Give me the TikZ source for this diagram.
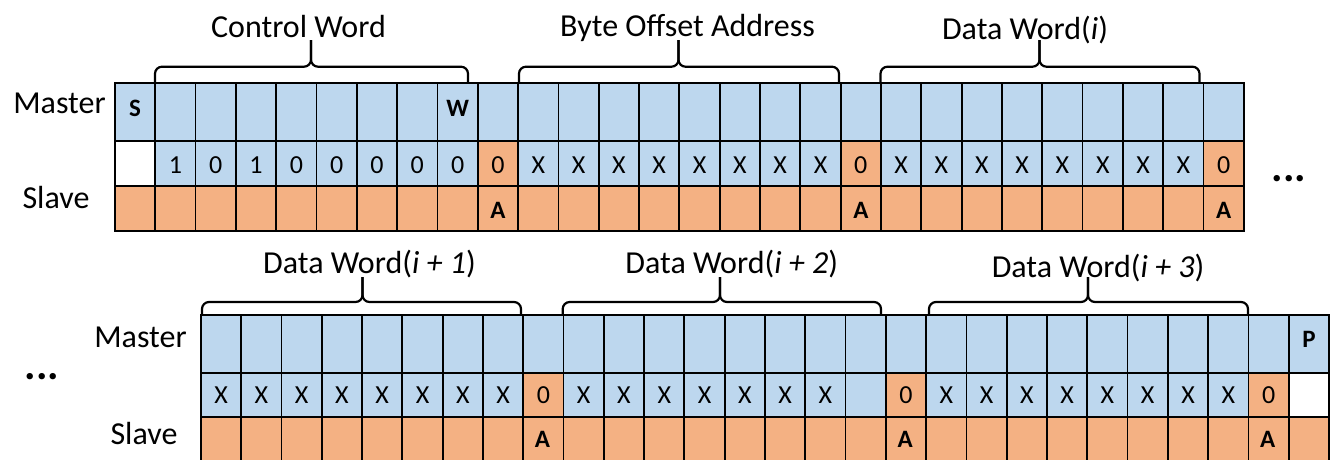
\documentclass[tikz,border=0pt]{standalone}
\usepackage{fontspec}
\setmainfont{Carlito}
\definecolor{B}{HTML}{BDD7EE}
\definecolor{O}{HTML}{F4B183}
\newcommand{\cbrace}[6]{%
  \draw[bracestyle] (#1,#4) |- (#3,#5) -- (#3,#6);
  \draw[bracestyle] (#2,#4) |- (#3,#5) -- (#3,#6);}
\begin{document}
\begin{tikzpicture}[x=1pt,y=-1pt,
  cell/.style={draw=black, line width=1.8pt, minimum width=40.32pt, inner sep=0pt, anchor=north west},
  bit/.style={inner sep=0pt, font=\fontsize{26}{30}\selectfont},
  bbit/.style={inner sep=0pt, font=\fontsize{25}{30}\selectfont\bfseries},
  lab/.style={inner sep=0pt, anchor=base, font=\fontsize{32}{38}\selectfont},
  dots/.style={inner sep=0pt, font=\fontsize{43}{50}\selectfont\bfseries},
  bracestyle/.style={draw=black, line width=2.2pt, rounded corners=7pt}]
\useasboundingbox (0,0) rectangle (1338,459);
\clip (0,0) rectangle (1338,459);
% ---------- top frame ----------
\foreach \i in {0,...,27}{
  \node[cell, fill=B, minimum height=58pt] (tm\i) at (114+\i*40.32,82) {};
  \node[cell, fill=O, minimum height=45.3pt] (ts\i) at (114+\i*40.32,184.7) {};
}
\foreach \c/\t [count=\i from 0] in {white/{},B/1,B/0,B/1,B/0,B/0,B/0,B/0,B/0,O/0,
  B/X,B/X,B/X,B/X,B/X,B/X,B/X,B/X,O/0,B/X,B/X,B/X,B/X,B/X,B/X,B/X,B/X,O/0}{
  \node[cell, fill=\c, minimum height=44.7pt] (td\i) at (114+\i*40.32,140) {};
  \node[bit] at ([yshift=-1.7pt]td\i.center) {\t};
}
\node[bbit] at ([yshift=4pt]tm0.center) {S};
\node[bbit] at ([yshift=4pt]tm8.center) {W};
\foreach \i in {9,18,27}{\node[bbit] at ([yshift=-1.7pt]ts\i.center) {A};}
\node[lab] (tmaster) at (59.5,113) {Master};
\node[lab] (tslave) at (56,208) {Slave};
\node[dots] (tdots) at (1289,179) {...};
\cbrace{155}{468}{311}{82}{66.7}{40}
\cbrace{519}{839}{678.5}{82}{66.7}{40}
\cbrace{880.5}{1199.5}{1039.5}{82}{66.7}{40}
\node[lab] (lcw) at (298.5,37) {Control Word};
\node[lab] (lboa) at (687.5,36.5) {Byte Offset Address};
\node[lab] (ldw0) at (1025,39) {Data Word(\textit{i})};
% ---------- bottom frame ----------
\foreach \i in {0,...,27}{
  \node[cell, fill=B, minimum height=58pt] (bm\i) at (200+\i*40.29,314) {};
  \node[cell, fill=O, minimum height=60pt] (bs\i) at (200+\i*40.29,416) {};
}
\foreach \c/\t [count=\i from 0] in {B/X,B/X,B/X,B/X,B/X,B/X,B/X,B/X,O/0,
  B/X,B/X,B/X,B/X,B/X,B/X,B/X,B/{},O/0,B/X,B/X,B/X,B/X,B/X,B/X,B/X,B/X,O/0,white/{}}{
  \node[cell, fill=\c, minimum height=44pt] (bd\i) at (200+\i*40.29,372) {};
  \node[bit] at (bd\i.center) {\t};
}
\node[bbit] at ([yshift=5pt]bm27.center) {P};
\foreach \i in {8,17,26}{\node[bbit] at (200+\i*40.29+20.15,439.5) {A};}
\node[lab] (bmaster) at (140.5,347) {Master};
\node[lab] (bslave) at (144,444.5) {Slave};
\node[dots] (bdots) at (42,377) {...};
\cbrace{202}{521}{362.5}{314}{302}{277}
\cbrace{562.7}{881}{720}{314}{302}{277}
\cbrace{929}{1248}{1088}{314}{302}{277}
\node[lab] (ldw1) at (369.5,273) {Data Word(\textit{i + 1})};
\node[lab] (ldw2) at (731.7,273) {Data Word(\textit{i + 2})};
\node[lab] (ldw3) at (1098,277) {Data Word(\textit{i + 3})};
\end{tikzpicture}
\end{document}
